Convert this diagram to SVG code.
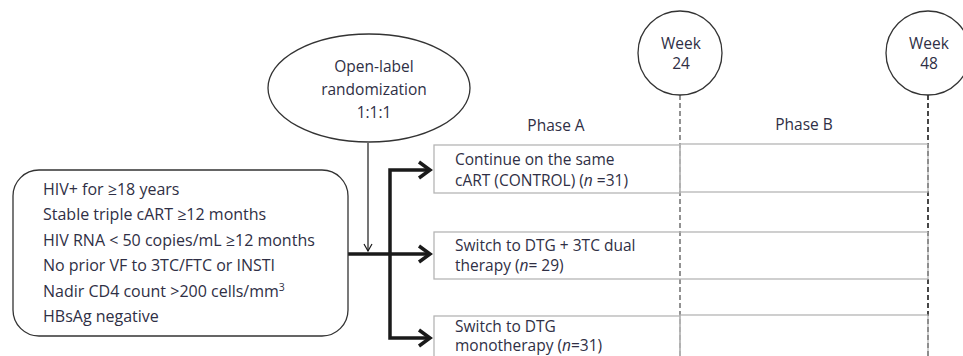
<svg xmlns="http://www.w3.org/2000/svg" width="963" height="356" viewBox="0 0 963 356">
<style>
text{font-family:"Open Sans","Liberation Sans",Arial,sans-serif;fill:#2f2f45;font-size:15.5px}
.c{text-anchor:middle}
.crit{font-size:16px}
.box{fill:none;stroke:#b5b5b5;stroke-width:1.3}
.thick{fill:none;stroke:#1a1a1a;stroke-width:3.5;stroke-linejoin:miter}
.dash{fill:none;stroke-width:1.6;stroke-dasharray:5 3}
</style>
<rect width="963" height="356" fill="#fff"/>
<g id="connectors">
<path d="M368 143 V251" fill="none" stroke="#1a1a1a" stroke-width="1.2"/>
<path d="M364 244 L368 251 L372 244" fill="none" stroke="#1a1a1a" stroke-width="1.2"/>
<path class="thick" d="M348 254 H428"/>
<path class="thick" d="M428 170 H390 V338 H428"/>
<path class="thick" d="M419 162 L430 170 L419 178"/>
<path class="thick" d="M419 246 L430 254 L419 262"/>
<path class="thick" d="M419 330 L430 338 L419 346"/>
<path class="dash" stroke="#777" d="M680 95 V356"/>
<path class="dash" stroke="#1a1a1a" d="M928 95 V356"/>
</g>
<g id="criteria">
<rect x="13" y="170" width="335" height="166" rx="26" fill="#fff" stroke="#333" stroke-width="1.3"/>
<text class="crit" x="43" y="195">HIV+ for ≥18 years</text>
<text class="crit" x="43" y="220">Stable triple cART ≥12 months</text>
<text class="crit" x="43" y="246">HIV RNA &lt; 50 copies/mL ≥12 months</text>
<text class="crit" x="43" y="271">No prior VF to 3TC/FTC or INSTI</text>
<text class="crit" x="43" y="297">Nadir CD4 count &gt;200 cells/mm<tspan font-size="10.5" dy="-6">3</tspan></text>
<text class="crit" x="43" y="322">HBsAg negative</text>
</g>
<g id="randomization">
<ellipse cx="369" cy="88" rx="101" ry="54" fill="#fff" stroke="#333" stroke-width="1.3"/>
<text class="c" x="374" y="72">Open-label</text>
<text class="c" x="374" y="95">randomization</text>
<text class="c" x="374" y="118">1:1:1</text>
</g>
<g id="week24">
<circle cx="680" cy="53" r="42" fill="#fff" stroke="#333" stroke-width="1.3"/>
<text class="c" x="681" y="49">Week</text>
<text class="c" x="681" y="69">24</text>
</g>
<g id="week48">
<circle cx="928" cy="53" r="42" fill="#fff" stroke="#333" stroke-width="1.3"/>
<text class="c" x="929" y="49">Week</text>
<text class="c" x="929" y="69">48</text>
</g>
<g id="phases">
<text class="c" x="556" y="131">Phase A</text>
<text class="c" x="804" y="130">Phase B</text>
</g>
<g id="control">
<rect class="box" x="434" y="145" width="246" height="48"/>
<rect class="box" x="680" y="144" width="248" height="48"/>
<text x="455" y="165">Continue on the same</text>
<text x="455" y="186">cART (CONTROL) (<tspan font-style="italic">n</tspan> =31)</text>
</g>
<g id="dual">
<rect class="box" x="434" y="232" width="494" height="47"/>
<text x="455" y="251">Switch to DTG + 3TC dual</text>
<text x="455" y="271">therapy (<tspan font-style="italic">n</tspan>= 29)</text>
</g>
<g id="mono">
<rect class="box" x="434" y="316" width="246" height="50"/>
<rect class="box" x="680" y="315" width="248" height="50"/>
<text x="455" y="332">Switch to DTG</text>
<text x="455" y="351">monotherapy (<tspan font-style="italic">n</tspan>=31)</text>
</g>
</svg>
